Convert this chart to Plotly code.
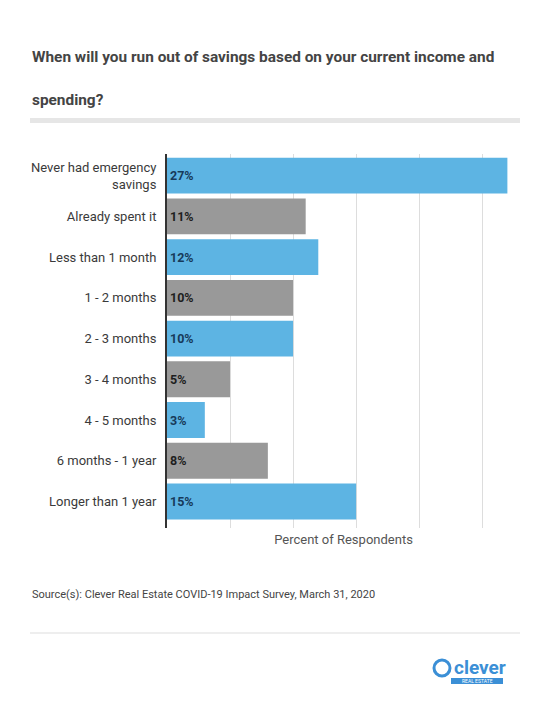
import plotly.graph_objects as go

categories = [
    "Never had emergency<br>savings",
    "Already spent it",
    "Less than 1 month",
    "1 - 2 months",
    "2 - 3 months",
    "3 - 4 months",
    "4 - 5 months",
    "6 months - 1 year",
    "Longer than 1 year",
]
values = [27, 11, 12, 10, 10, 5, 3, 8, 15]
value_labels = [f"{v}%" for v in values]

title_line1 = "When will you run out of savings based on your current income and"
title_line2 = "spending?"
x_title = "Percent of Respondents"
source = "Source(s): Clever Real Estate COVID-19 Impact Survey, March 31, 2020"

BLUE = "#5db4e3"
GRAY = "#999999"
bar_colors = [BLUE if i % 2 == 0 else GRAY for i in range(len(values))]
text_colors = ["#173a5a" if i % 2 == 0 else "#1e1e1e" for i in range(len(values))]

W, H = 550, 715
L, R, T, B = 167, 520, 154, 528


def px(x):
    return (x - L) / (R - L)


def py(y):
    return (B - y) / (B - T)


fig = go.Figure()
fig.add_trace(go.Bar(
    y=list(range(len(categories))),
    x=values,
    orientation="h",
    marker=dict(color=bar_colors, line=dict(width=0)),
    width=0.88,
    text=value_labels,
    textposition="inside",
    insidetextanchor="start",
    textangle=0,
    textfont=dict(family="Roboto", size=12.5, color=text_colors, weight="bold"),
    hoverinfo="skip",
))

fig.update_layout(
    width=W, height=H,
    margin=dict(l=L, r=W - R, t=T, b=H - B),
    paper_bgcolor="white", plot_bgcolor="white",
    showlegend=False,
    font=dict(family="Roboto", color="#444"),
    xaxis=dict(
        range=[0, 28], tickvals=[5, 10, 15, 20, 25], showticklabels=False,
        showgrid=True, gridcolor="#dddddd", gridwidth=1, zeroline=False,
        showline=False, fixedrange=True,
        title=dict(text=x_title, font=dict(size=13, color="#555"), standoff=6),
    ),
    yaxis=dict(
        range=[8.65, -0.53], tickvals=list(range(len(categories))),
        ticktext=categories, showgrid=False, zeroline=False,
        showline=True, linecolor="#333333", linewidth=2,
        ticks="", ticklabelstandoff=6,
        tickfont=dict(family="Roboto", size=13, color="#3a3a3a"),
        fixedrange=True,
    ),
    bargap=0.12,
)

annotations = [
    dict(text=title_line1, x=px(30), y=py(57), xanchor="left", yanchor="middle",
         font=dict(family="Roboto", size=15.4, color="#444", weight="bold")),
    dict(text=title_line2, x=px(30), y=py(100), xanchor="left", yanchor="middle",
         font=dict(family="Roboto", size=15.4, color="#444", weight="bold")),
    dict(text=source, x=px(30), y=py(594), xanchor="left", yanchor="middle",
         font=dict(family="Roboto", size=11, color="#444")),
    dict(text="<b>clever</b>", x=px(452), y=py(667), xanchor="left", yanchor="middle",
         font=dict(family="Roboto", size=19, color="#3b8fd6")),
    dict(text="REAL ESTATE", x=px(477), y=py(681), xanchor="center", yanchor="middle",
         font=dict(family="Roboto", size=5, color="white")),
]
for a in annotations:
    a.update(xref="paper", yref="paper", showarrow=False)
fig.update_layout(annotations=annotations)

shapes = [
    dict(type="rect", x0=px(30), x1=px(520), y0=py(118), y1=py(123),
         fillcolor="#e6e6e6", line=dict(width=0)),
    dict(type="line", x0=px(30), x1=px(520), y0=py(633), y1=py(633),
         line=dict(color="#dddddd", width=1)),
    dict(type="rect", x0=px(451), x1=px(503), y0=py(678), y1=py(684),
         fillcolor="#3b8fd6", line=dict(width=0)),
    dict(type="circle", x0=px(434), x1=px(450), y0=py(676), y1=py(660),
         fillcolor="white", line=dict(color="#3b8fd6", width=3)),
]
for s in shapes:
    s.update(xref="paper", yref="paper")
fig.update_layout(shapes=shapes)

fig.write_html("out.html", config={"displayModeBar": False},
               post_script="document.body.style.margin='0';")
